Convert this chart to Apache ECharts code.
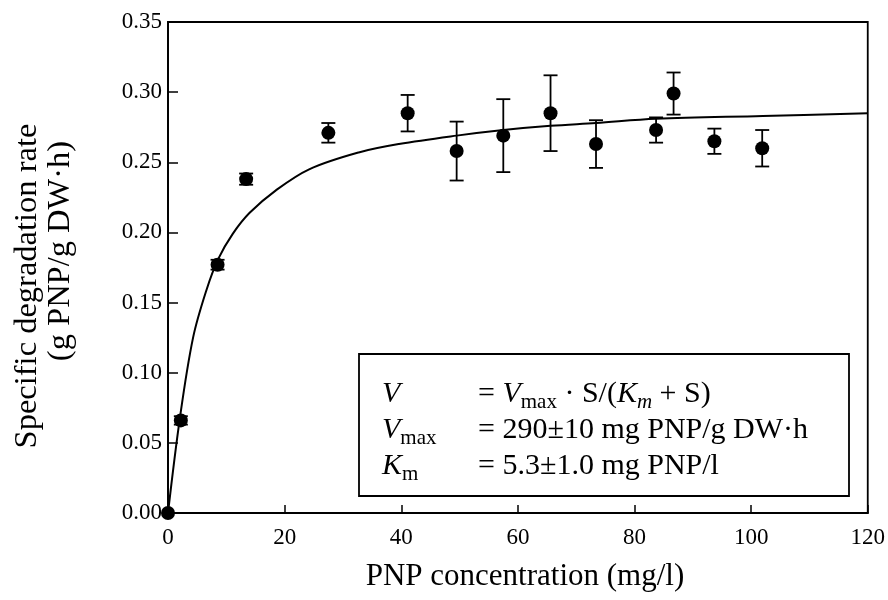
<!DOCTYPE html>
<html>
<head>
<meta charset="utf-8">
<script src="https://cdn.jsdelivr.net/npm/echarts@6/dist/echarts.min.js"></script>
<style>
html,body{margin:0;padding:0;background:#fff;}
#chart{width:888px;height:600px;}
</style>
</head>
<body>
<div id="chart"></div>
<script>
// Measured data points (PNP concentration mg/l, specific degradation rate, ± error)
var concentration = [0, 2.2, 8.5, 13.4, 27.5, 41.1, 49.5, 57.5, 65.6, 73.4, 83.7, 86.7, 93.7, 101.9];
var rate          = [0, 0.066, 0.177, 0.238, 0.271, 0.285, 0.258, 0.269, 0.285, 0.263, 0.273, 0.299, 0.265, 0.260];
var rateError     = [0, 0.003, 0.0035, 0.004, 0.007, 0.013, 0.021, 0.026, 0.027, 0.017, 0.009, 0.015, 0.009, 0.013];

// Fitted Michaelis-Menten curve
var curveX = [0, 2.05, 4.3, 6.6, 8.6, 11.1, 14.0, 18.5, 24.2, 32.7, 39.6, 49.5, 57.5, 65.6, 73.4, 83.7, 102, 120];
var curveY = [0, 0.068, 0.125, 0.159, 0.181, 0.199, 0.214, 0.230, 0.245, 0.257, 0.263, 0.269, 0.273, 0.276, 0.278, 0.281, 0.283, 0.285];

// Axis ticks
var xTicks = [0, 20, 40, 60, 80, 100, 120];
var yTicks = [0.00, 0.05, 0.10, 0.15, 0.20, 0.25, 0.30, 0.35];

var FONT = 'Liberation Serif';
var chart = echarts.init(document.getElementById('chart'), null, {renderer: 'canvas'});

var option = {
  backgroundColor: '#fff',
  animation: false,
  grid: {left: 168, right: 19, top: 22, bottom: 87, show: true, borderColor: '#000', borderWidth: 1.8, backgroundColor: 'transparent'},
  xAxis: {
    type: 'value', min: xTicks[0], max: xTicks[xTicks.length - 1], interval: 20,
    axisLine: {show: true, lineStyle: {color: '#000', width: 1.8}},
    axisTick: {show: true, inside: true, length: 8, lineStyle: {color: '#000', width: 1.5}},
    axisLabel: {color: '#000', fontFamily: FONT, fontSize: 23, margin: 13},
    splitLine: {show: false}
  },
  yAxis: {
    type: 'value', min: yTicks[0], max: yTicks[yTicks.length - 1], interval: 0.05,
    axisLine: {show: true, lineStyle: {color: '#000', width: 1.8}},
    axisTick: {show: true, inside: true, length: 10, lineStyle: {color: '#000', width: 1.5}},
    axisLabel: {color: '#000', fontFamily: FONT, fontSize: 23, margin: 6, formatter: function (v) { return v.toFixed(2); }},
    splitLine: {show: false}
  },
  series: [
    {
      type: 'line',
      data: curveX.map(function (x, i) { return [x, curveY[i]]; }),
      smooth: 0.35,
      showSymbol: false, symbol: 'none',
      lineStyle: {color: '#000', width: 2},
      z: 2
    },
    {
      type: 'custom',
      data: concentration.map(function (x, i) { return [x, rate[i], rateError[i]]; }).filter(function (d) { return d[2] > 0; }),
      renderItem: function (params, api) {
        var x = api.value(0), y = api.value(1), e = api.value(2);
        var hi = api.coord([x, y + e]), lo = api.coord([x, y - e]);
        var w = 7;
        var st = {stroke: '#000', lineWidth: 1.8};
        return {type: 'group', children: [
          {type: 'line', shape: {x1: hi[0], y1: hi[1], x2: lo[0], y2: lo[1]}, style: st},
          {type: 'line', shape: {x1: hi[0] - w, y1: hi[1], x2: hi[0] + w, y2: hi[1]}, style: st},
          {type: 'line', shape: {x1: lo[0] - w, y1: lo[1], x2: lo[0] + w, y2: lo[1]}, style: st}
        ]};
      },
      z: 3
    },
    {
      type: 'scatter',
      data: concentration.map(function (x, i) { return [x, rate[i]]; }),
      symbol: 'circle', symbolSize: 14,
      itemStyle: {color: '#000', opacity: 1},
      clip: false,
      z: 4
    }
  ],
  graphic: [
    {type: 'text', x: 525, y: 577, style: {text: 'PNP concentration (mg/l)', font: '31px "Liberation Serif"', fill: '#000', textAlign: 'center', textVerticalAlign: 'middle'}},
    {type: 'text', x: 27, y: 286, rotation: Math.PI / 2, style: {text: 'Specific degradation rate', font: '32.5px "Liberation Serif"', fill: '#000', textAlign: 'center', textVerticalAlign: 'middle'}},
    {type: 'text', x: 60, y: 251, rotation: Math.PI / 2, style: {text: '(g PNP/g DW·h)', font: '32.5px "Liberation Serif"', fill: '#000', textAlign: 'center', textVerticalAlign: 'middle'}},
    {type: 'rect', shape: {x: 359, y: 354, width: 490, height: 142}, style: {fill: '#fff', stroke: '#000', lineWidth: 1.8}, z: 10},
    {type: 'text', x: 382, y: 394, z: 11, style: {
      text: '{i|V}', textVerticalAlign: 'middle', fill: '#000',
      rich: {i: {fontFamily: FONT, fontSize: 30, fontStyle: 'italic', lineHeight: 36, verticalAlign: 'middle'}}}},
    {type: 'text', x: 478, y: 394, z: 11, style: {
      text: '{n|= }{i|V}{s|max}{n| · S/(}{i|K}{si|m}{n| + S)}', textVerticalAlign: 'middle', fill: '#000',
      rich: {
        n: {fontFamily: FONT, fontSize: 30, lineHeight: 36, verticalAlign: 'middle'},
        i: {fontFamily: FONT, fontSize: 30, fontStyle: 'italic', lineHeight: 36, verticalAlign: 'middle'},
        s: {fontFamily: FONT, fontSize: 21, lineHeight: 38, verticalAlign: 'bottom'},
        si: {fontFamily: FONT, fontSize: 21, fontStyle: 'italic', lineHeight: 38, verticalAlign: 'bottom'}
      }}},
    {type: 'text', x: 382, y: 430, z: 11, style: {
      text: '{i|V}{s|max}', textVerticalAlign: 'middle', fill: '#000',
      rich: {
        i: {fontFamily: FONT, fontSize: 30, fontStyle: 'italic', lineHeight: 36, verticalAlign: 'middle'},
        s: {fontFamily: FONT, fontSize: 21, lineHeight: 38, verticalAlign: 'bottom'}
      }}},
    {type: 'text', x: 478, y: 430, z: 11, style: {
      text: '= 290±10 mg PNP/g DW·h', font: '30px "Liberation Serif"', fill: '#000', textVerticalAlign: 'middle'}},
    {type: 'text', x: 382, y: 466, z: 11, style: {
      text: '{i|K}{s|m}', textVerticalAlign: 'middle', fill: '#000',
      rich: {
        i: {fontFamily: FONT, fontSize: 30, fontStyle: 'italic', lineHeight: 36, verticalAlign: 'middle'},
        s: {fontFamily: FONT, fontSize: 21, lineHeight: 38, verticalAlign: 'bottom'}
      }}},
    {type: 'text', x: 478, y: 466, z: 11, style: {
      text: '= 5.3±1.0 mg PNP/l', font: '30px "Liberation Serif"', fill: '#000', textVerticalAlign: 'middle'}}
  ]
};
chart.setOption(option);
</script>
</body>
</html>
